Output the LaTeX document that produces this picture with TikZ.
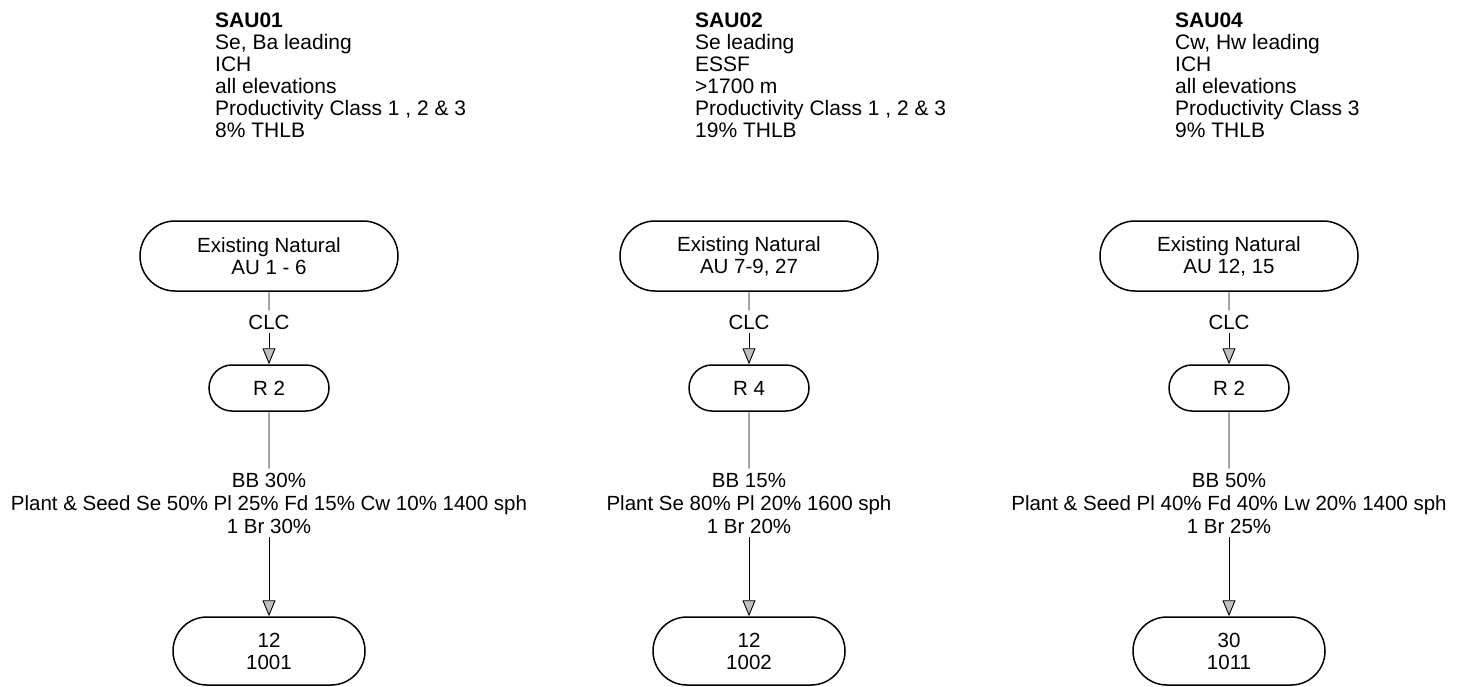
\documentclass[tikz,border=0pt]{standalone}
\usepackage{fontspec}
\setmainfont{Liberation Sans}
\usetikzlibrary{arrows.meta,shapes.misc}
\tikzset{
  hdr/.style={anchor=north west, align=left, inner sep=0pt, font=\fontsize{21}{22}\selectfont},
  stadium/.style={draw, rounded rectangle, line width=1.5pt, align=center, inner sep=0pt, font=\fontsize{20.5}{22}\selectfont},
  bignode/.style={stadium, minimum width=258pt, minimum height=70pt},
  endnode/.style={stadium, minimum width=192pt, minimum height=68pt},
  rnode/.style={stadium, minimum width=120pt, minimum height=46pt},
  lbl/.style={align=center, inner sep=4pt, font=\fontsize{20.5}{23}\selectfont},
  conn/.style={draw, line width=0.9pt},
  arr/.style={-{Triangle[width=13pt,length=16pt,fill=black!25,line width=0.9pt]}},
}
\begin{document}
\begin{tikzpicture}[x=1pt,y=-1pt]
\useasboundingbox (0,0) rectangle (1464,686);
% column 1
\node[hdr] (h1) at (215,12.5) {\textbf{SAU01}\\Se, Ba leading\\ICH\\all elevations\\Productivity Class 1 , 2 \& 3\\8\% THLB};
\node[bignode] (t1) at (269,256) {Existing Natural\\AU 1 - 6};
\node[lbl] (c1) at (269,322) {CLC};
\node[rnode] (r1) at (269,388) {R 2};
\node[lbl] (l1) at (269,503) {BB 30\%\\Plant \& Seed Se 50\% Pl 25\% Fd 15\% Cw 10\% 1400 sph\\1 Br 30\%};
\node[endnode] (b1) at (269,651) {12\\1001};
\draw[conn] (t1) -- (c1);
\draw[conn,arr] (c1) -- (r1);
\draw[conn] (r1) -- (l1);
\draw[conn,arr] (l1) -- (b1);
% column 2
\node[hdr] (h2) at (695,12.5) {\textbf{SAU02}\\Se leading\\ESSF\\>1700 m\\Productivity Class 1 , 2 \& 3\\19\% THLB};
\node[bignode] (t2) at (749,256) {Existing Natural\\AU 7-9, 27};
\node[lbl] (c2) at (749,322) {CLC};
\node[rnode] (r2) at (749,388) {R 4};
\node[lbl] (l2) at (749,503) {BB 15\%\\Plant Se 80\% Pl 20\% 1600 sph\\1 Br 20\%};
\node[endnode] (b2) at (749,651) {12\\1002};
\draw[conn] (t2) -- (c2);
\draw[conn,arr] (c2) -- (r2);
\draw[conn] (r2) -- (l2);
\draw[conn,arr] (l2) -- (b2);
% column 3
\node[hdr] (h3) at (1175,12.5) {\textbf{SAU04}\\Cw, Hw leading\\ICH\\all elevations\\Productivity Class 3\\9\% THLB};
\node[bignode] (t3) at (1229,256) {Existing Natural\\AU 12, 15};
\node[lbl] (c3) at (1229,322) {CLC};
\node[rnode] (r3) at (1229,388) {R 2};
\node[lbl] (l3) at (1229,503) {BB 50\%\\Plant \& Seed Pl 40\% Fd 40\% Lw 20\% 1400 sph\\1 Br 25\%};
\node[endnode] (b3) at (1229,651) {30\\1011};
\draw[conn] (t3) -- (c3);
\draw[conn,arr] (c3) -- (r3);
\draw[conn] (r3) -- (l3);
\draw[conn,arr] (l3) -- (b3);
\end{tikzpicture}
\end{document}
